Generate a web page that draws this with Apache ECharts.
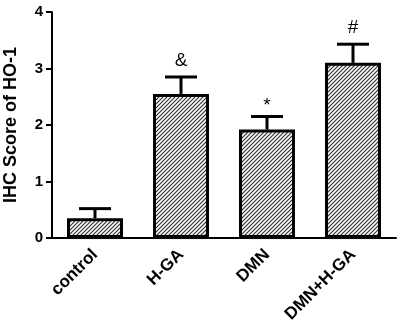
<!DOCTYPE html>
<html>
<head>
<meta charset="utf-8">
<script src="https://cdn.jsdelivr.net/npm/echarts@6/dist/echarts.min.js"></script>
<style>html,body{margin:0;padding:0;background:#fff;}#c{width:400px;height:329px;}</style>
</head>
<body>
<div id="c"></div>
<script>
const categories = ['control', 'H-GA', 'DMN', 'DMN+H-GA'];
const means = [0.35, 2.55, 1.92, 3.10];
const errTops = [0.52, 2.85, 2.15, 3.43];
const marks = ['', '&', '*', '#'];
const yTicks = [0, 1, 2, 3, 4];

function hatch() {
  const s = 4;
  const c = document.createElement('canvas');
  c.width = s; c.height = s;
  const g = c.getContext('2d');
  g.fillStyle = '#fff'; g.fillRect(0, 0, s, s);
  g.strokeStyle = '#333'; g.lineWidth = 1.2;
  g.beginPath();
  g.moveTo(-1, s + 1); g.lineTo(s + 1, -1);
  g.moveTo(-1, 1); g.lineTo(1, -1);
  g.moveTo(s - 1, s + 1); g.lineTo(s + 1, s - 1);
  g.stroke();
  return c;
}

const chart = echarts.init(document.getElementById('c'), null, {renderer: 'canvas'});
const font = 'Liberation Sans, Arial, sans-serif';
chart.setOption({
  animation: false,
  backgroundColor: '#fff',
  grid: {left: 52, right: 4, top: 12, bottom: 91, containLabel: false, outerBoundsMode: 'none'},
  xAxis: {
    type: 'category',
    data: categories,
    axisLine: {lineStyle: {color: '#000', width: 2}},
    axisTick: {alignWithLabel: true, length: 7, lineStyle: {color: '#000', width: 2}},
    axisLabel: {rotate: 45, margin: 14, color: '#000', fontWeight: 'bold', fontSize: 17, fontFamily: font, interval: 0}
  },
  yAxis: {
    type: 'value',
    min: yTicks[0], max: yTicks[yTicks.length - 1], interval: 1,
    name: 'IHC Score of HO-1',
    nameLocation: 'middle',
    nameGap: 32,
    nameTextStyle: {color: '#000', fontWeight: 'bold', fontSize: 18, fontFamily: font},
    splitLine: {show: false},
    axisLine: {show: true, lineStyle: {color: '#000', width: 2}},
    axisTick: {show: true, length: 6, lineStyle: {color: '#000', width: 2}},
    axisLabel: {margin: 9, color: '#000', fontWeight: 'bold', fontSize: 15, fontFamily: font}
  },
  series: [
    {
      type: 'bar',
      data: means,
      barWidth: 56,
      itemStyle: {color: {image: hatch(), repeat: 'repeat'}, borderColor: '#000', borderWidth: 3},
      z: 2
    },
    {
      type: 'custom',
      z: 3,
      data: means.map((m, i) => [i, m, errTops[i]]),
      renderItem: function (params, api) {
        const i = api.value(0);
        const top = api.coord([i, api.value(1)]);
        const cap = api.coord([i, api.value(2)]);
        const x = top[0];
        const t = marks[params.dataIndex];
        const children = [
          {type: 'line', shape: {x1: x, y1: top[1], x2: x, y2: cap[1]}, style: {stroke: '#000', lineWidth: 3}},
          {type: 'line', shape: {x1: x - 16, y1: cap[1], x2: x + 16, y2: cap[1]}, style: {stroke: '#000', lineWidth: 3}}
        ];
        if (t) {
          children.push({type: 'text', style: {text: t, x: x, y: cap[1] - (t === '*' ? 1 : 7), align: 'center', verticalAlign: 'bottom', fill: '#000', font: '19px ' + font}});
        }
        return {type: 'group', children: children};
      }
    }
  ]
});
</script>
</body>
</html>
